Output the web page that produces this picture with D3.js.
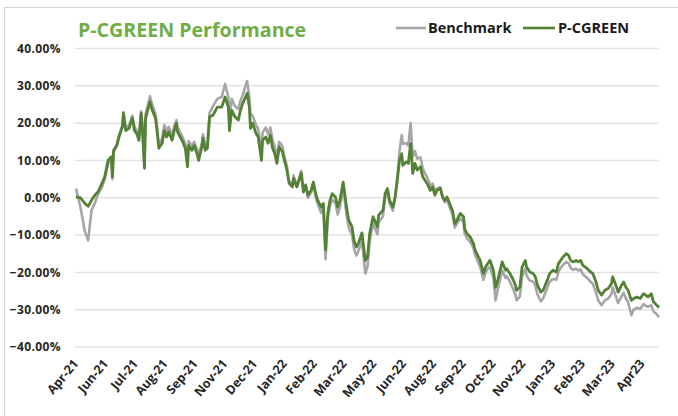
<!DOCTYPE html>
<html>
<head>
<meta charset="utf-8">
<script src="https://cdn.jsdelivr.net/npm/d3@7"></script>
<style>
  body { margin: 0; background: #fff; }
  svg { display: block; font-family: "Open Sans", "Liberation Sans", sans-serif; }
  .ylab, .xlab { font-weight: bold; fill: #262626; }
</style>
</head>
<body>
<svg></svg>
<script>
// trading days since 1 Apr 2021
var days = [0,4,8,11,14,17,20,24,26,29,32,33,34,37,39,42,43,45,48,51,53,55,57,59,60,62,63,65,67,69,72,73,75,78,80,82,84,87,89,91,92,96,99,101,102,105,107,110,111,114,115,117,119,121,124,128,132,135,138,139,141,144,147,149,151,155,157,158,160,163,165,168,169,172,174,176,178,180,182,184,187,188,191,193,196,197,200,202,204,206,208,210,213,215,217,219,222,224,226,228,230,232,235,237,239,242,245,247,250,252,254,256,259,262,264,266,269,273,274,278,280,282,284,287,289,291,293,295,296,299,301,303,305,307,309,312,314,316,318,321,323,325,327,330,332,334,336,339,341,343,345,348,351,352,354,357,360,361,363,366,369,371,373,375,378,380,382,386,389,390,393,396,398,399,402,404,407,408,411,414,416,418,421,423,427,429,432,435,437,439,441,444,446,448,450,453,455,457,459,463,466,468,471,473,476,479,482,485,486,489,491,494,496,498,500,503,505,508,511,514,516,518,521,523,526,528];

// cumulative performance, %
var pcgreen = [0.2,0.0,-1.5,-2.3,-0.7,0.7,1.6,4.2,5.6,10.0,11.0,5.6,12.7,14.0,16.3,19.0,22.6,18.0,18.6,21.3,18.0,17.2,15.4,22.6,19.0,7.9,21.3,23.5,25.7,23.5,21.3,19.0,13.3,14.6,18.0,16.3,17.6,15.4,18.0,20.0,17.6,15.4,13.3,8.3,14.0,12.7,14.0,11.4,10.0,13.6,16.0,12.7,13.3,21.7,22.1,24.3,24.3,27.0,24.3,18.0,23.5,21.7,20.8,23.5,25.3,28.0,24.3,18.6,20.0,17.3,16.3,10.0,15.4,16.3,14.6,16.8,13.3,11.9,9.2,13.6,12.3,10.9,7.4,3.9,2.9,5.2,2.9,4.7,6.6,1.6,3.4,0.7,2.0,4.2,1.1,-0.7,-2.5,-1.5,-14.0,-4.2,-0.7,1.1,0.2,-2.5,-0.7,4.2,-2.5,-6.0,-7.8,-11.8,-13.2,-12.0,-9.4,-16.8,-15.9,-9.5,-5.1,-7.8,-4.7,-3.4,1.1,2.5,-0.7,-2.5,0.2,4.7,10.0,11.8,8.7,9.6,9.2,14.5,6.5,9.2,7.4,8.3,5.6,4.7,3.8,2.0,2.9,0.7,2.0,2.5,0.2,-0.7,0.2,-2.0,-3.4,-6.9,-6.0,-4.2,-5.1,-8.3,-9.6,-10.5,-12.3,-13.6,-15.0,-16.8,-20.3,-18.5,-17.6,-16.8,-19.4,-24.0,-22.0,-17.2,-19.4,-19.0,-20.3,-22.0,-23.5,-24.8,-24.0,-18.5,-16.8,-18.5,-19.9,-20.3,-21.2,-23.5,-25.3,-24.8,-22.0,-20.3,-19.4,-19.9,-17.6,-16.8,-15.9,-15.0,-15.4,-16.8,-17.2,-16.8,-17.2,-16.8,-18.1,-19.0,-19.9,-20.3,-22.6,-24.8,-26.1,-24.8,-24.3,-23.0,-21.2,-23.5,-25.3,-23.5,-22.6,-24.0,-24.8,-27.5,-27.0,-26.6,-27.0,-25.7,-26.1,-26.6,-25.7,-27.9,-28.8,-29.4];

var benchmark = [2.5,-2.5,-9.0,-11.4,-3.4,-1.5,1.0,3.2,5.0,9.0,10.5,5.0,12.0,14.5,16.8,19.5,23.0,18.8,19.4,22.0,19.0,18.0,16.5,23.2,20.0,8.5,22.5,24.8,27.2,25.0,22.5,20.0,14.5,15.8,19.5,17.8,19.0,16.8,19.2,20.8,18.8,16.6,14.5,9.5,15.2,13.8,15.0,12.8,11.2,14.8,17.0,14.0,14.6,22.8,24.5,26.5,27.0,30.5,27.0,21.0,26.5,24.5,23.8,26.0,27.5,31.3,27.0,22.5,22.0,19.5,18.5,12.5,17.5,18.8,17.0,18.8,15.5,13.5,11.0,15.0,13.8,12.0,8.5,4.5,3.5,6.0,3.0,5.2,7.2,1.5,3.5,0.0,1.5,4.0,0.2,-1.8,-4.0,-2.5,-16.5,-6.0,-2.0,-0.5,-1.5,-4.5,-2.5,2.5,-4.5,-8.0,-10.0,-14.0,-15.5,-14.0,-11.5,-20.3,-18.5,-11.5,-7.0,-9.8,-6.5,-5.0,0.0,1.5,-1.5,-3.5,0.0,5.5,12.5,16.8,14.5,14.6,14.0,20.0,11.0,12.5,10.5,10.8,8.0,6.5,5.5,3.2,3.8,1.5,2.5,2.8,0.0,-1.2,-0.5,-3.0,-4.5,-8.0,-7.0,-5.5,-6.5,-9.5,-10.8,-11.8,-13.5,-15.0,-16.5,-18.5,-22.0,-20.0,-19.0,-18.5,-21.5,-27.5,-24.5,-19.5,-21.5,-21.0,-22.5,-24.5,-26.0,-27.5,-26.5,-21.0,-19.0,-20.8,-22.2,-22.5,-23.5,-26.0,-27.8,-27.0,-24.0,-22.5,-21.8,-22.0,-19.8,-18.8,-18.0,-17.2,-17.5,-18.8,-19.3,-19.0,-19.5,-19.2,-20.5,-21.5,-22.5,-23.0,-25.5,-27.5,-28.8,-27.5,-27.0,-25.8,-24.0,-26.5,-28.2,-26.5,-25.5,-27.0,-28.0,-31.5,-30.0,-29.5,-29.8,-28.5,-29.0,-29.2,-28.8,-30.5,-31.2,-32.0];

var tickLabels = ["Apr-21","Jun-21","Jul-21","Aug-21","Sep-21","Nov-21","Dec-21","Jan-22","Feb-22","Mar-22","May-22","Jun-22","Aug-22","Sep-22","Oct-22","Nov-22","Jan-23","Feb-23","Mar-23","Apr23"];
var tickStep = 27; // trading days between labels
var yTicks = [40, 30, 20, 10, 0, -10, -20, -30, -40];

var width = 678, height = 416;

var svg = d3.select("svg")
  .attr("width", width)
  .attr("height", height);

// chart frame
svg.append("rect")
  .attr("x", 4.5).attr("y", 7.5)
  .attr("width", 700).attr("height", 430)
  .attr("fill", "#fff")
  .attr("stroke", "#d4d4d4");

var x = d3.scaleLinear()
  .domain([0, 528])
  .range([76, 659]);

var y = d3.scaleLinear()
  .domain([-40, 40])
  .range([347, 48.5]);

// gridlines
svg.append("g").attr("class", "grid")
  .selectAll("line")
  .data(yTicks)
  .enter()
  .append("line")
  .attr("x1", 75)
  .attr("x2", 659)
  .attr("y1", function(d) { return y(d); })
  .attr("y2", function(d) { return y(d); })
  .attr("stroke", "#e3e3e3")
  .attr("stroke-width", 1.5);

svg.append("g")
  .selectAll("text")
  .data(yTicks)
  .enter()
  .append("text")
  .attr("class", "ylab")
  .attr("x", 61)
  .attr("y", function(d) { return y(d); })
  .attr("dy", "0.35em")
  .attr("text-anchor", "end")
  .style("font-size", "12px")
  .style("letter-spacing", "0.4px")
  .text(function(d) { return d3.format(".2f")(d) + "%"; });

svg.append("g")
  .selectAll("text")
  .data(tickLabels)
  .enter()
  .append("text")
  .attr("class", "xlab")
  .attr("text-anchor", "end")
  .attr("transform", function(d, i) { return "translate(" + (x(i * tickStep) + 3) + ",364) rotate(-50)"; })
  .style("font-size", "12.5px")
  .text(function(d) { return d; });

var line = d3.line()
  .x(function(d) { return x(d[0]); })
  .y(function(d) { return y(d[1]); });

var benchPts = days.map(function(d, i) { return [d, benchmark[i]]; });
var greenPts = days.map(function(d, i) { return [d, pcgreen[i]]; });

svg.append("path")
  .datum(benchPts)
  .attr("d", line)
  .attr("fill", "none")
  .attr("stroke", "#a6a6a6")
  .attr("stroke-width", 2.6)
  .attr("stroke-linejoin", "round");

svg.append("path")
  .datum(greenPts)
  .attr("d", line)
  .attr("fill", "none")
  .attr("stroke", "#548235")
  .attr("stroke-width", 2.8)
  .attr("stroke-linejoin", "round");

// title
svg.append("text")
  .attr("x", 78)
  .attr("y", 37)
  .attr("fill", "#70ad47")
  .style("font-size", "19.6px")
  .style("font-weight", "bold")
  .text("P-CGREEN Performance");

// legend
var legend = svg.append("g").attr("class", "legend");
var legendItems = [
  { name: "Benchmark", color: "#a6a6a6", x1: 396, x2: 426, tx: 428 },
  { name: "P-CGREEN", color: "#548235", x1: 523, x2: 555, tx: 558 }
];

legend.selectAll("line")
  .data(legendItems)
  .enter()
  .append("line")
  .attr("x1", function(d) { return d.x1; })
  .attr("x2", function(d) { return d.x2; })
  .attr("y1", 28).attr("y2", 28)
  .attr("stroke", function(d) { return d.color; })
  .attr("stroke-width", 2.6);

legend.selectAll("text")
  .data(legendItems)
  .enter()
  .append("text")
  .attr("x", function(d) { return d.tx; })
  .attr("y", 28)
  .attr("dy", "0.35em")
  .attr("fill", "#1a1a1a")
  .style("font-size", "14.5px")
  .style("font-weight", "bold")
  .text(function(d) { return d.name; });
</script>
</body>
</html>
